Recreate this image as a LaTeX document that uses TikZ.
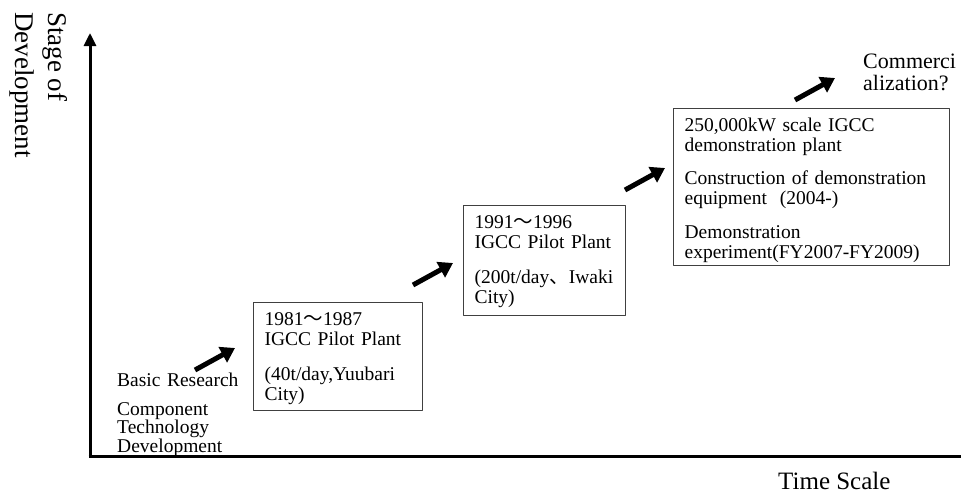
\documentclass[tikz,border=0pt]{standalone}
\usepackage{fontspec}
\setmainfont{Liberation Serif}
\newfontfamily\cjk{Noto Sans CJK JP}
\usetikzlibrary{arrows.meta}
\begin{document}
\begin{tikzpicture}[x=1pt, y=-1pt, line join=round,
		axis/.style={line width=3pt},
		stagebox/.style={draw=black!75, line width=1.2pt, anchor=north west, align=left,
			inner xsep=11pt, inner ysep=0pt, text height=23pt, font=\fontsize{19.5}{20}\selectfont},
		plain/.style={anchor=base west, align=left, inner sep=0pt},
		bigarrow/.style={line width=5pt, -{Triangle[length=14pt,width=17pt]}}]
	\useasboundingbox (0,0) rectangle (961,496);
	\coordinate (O) at (90,456);
	\coordinate (ytop) at (90,33);
	\coordinate (xend) at (961,456);
	\draw[axis, -{Triangle[length=13pt,width=12pt]}] (O) -- (ytop);
	\draw[axis] ([xshift=-1.5pt]O) -- (xend);
	\node[rotate=-90, anchor=north west, align=left, inner sep=0pt, font=\fontsize{27}{33}\selectfont] (ylab) at (68,12) {Stage of\\Development};
	\node[plain, font=\fontsize{25}{28}\selectfont] (xlab) at (778,489) {Time Scale};
	\node[plain, text width=130pt, font=\fontsize{19.5}{17}\selectfont] (basic) at (117,386) {Basic Research\\[12pt]Component\\Technology\\Development};
	\node[stagebox, text width=147pt, text depth=85pt] (yuubari) at (253,302) {1981{\cjk ～}1987\\IGCC Pilot Plant\\[15pt](40t/day,Yuubari\\City)};
	\node[stagebox, text width=140pt, text depth=87pt] (iwaki) at (463,205) {1991{\cjk ～}1996\\IGCC Pilot Plant\\[15pt](200t/day{\cjk 、}Iwaki\\City)};
	\node[stagebox, text width=254pt, text depth=134pt] (demo) at (673,108) {250,000kW scale IGCC\\demonstration plant\\[13pt]Construction of demonstration\\equipment\ \ (2004-)\\[14pt]Demonstration\\experiment(FY2007-FY2009)};
	\node[plain, text width=100pt, font=\fontsize{22}{22}\selectfont] (comm) at (863,68) {Commerci\\alization?};
	\foreach \n/\x/\y in {1/195/370, 2/413/285, 3/625/190, 4/795/100}{
		\coordinate (t\n) at (\x,\y);
		\coordinate (h\n) at (\x+40,\y-22);
		\draw[bigarrow] (t\n) -- (h\n);
	}
\end{tikzpicture}
\end{document}
